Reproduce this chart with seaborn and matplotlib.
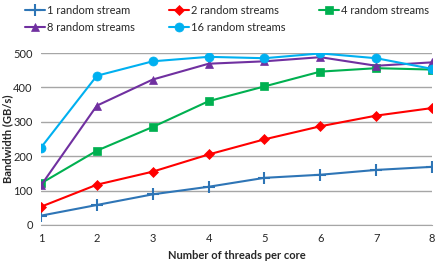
import matplotlib
matplotlib.use("Agg")
import matplotlib.pyplot as plt
import seaborn as sns
import pandas as pd

threads = [1, 2, 3, 4, 5, 6, 7, 8]
s1 = [27, 58, 89, 111, 137, 146, 160, 169]
s2 = [53, 117, 155, 205, 249, 287, 318, 340]
s4 = [121, 216, 285, 360, 403, 446, 456, 452]
s8 = [115, 347, 423, 469, 476, 488, 463, 473]
s16 = [225, 434, 476, 489, 485, 499, 485, 454]
names = ["1 random stream", "2 random streams", "4 random streams",
         "8 random streams", "16 random streams"]
colors = ["#2E75B6", "#FF0000", "#00B050", "#7030A0", "#00B0F0"]
markers = ["+", "D", "s", "^", "o"]
msizes = [9, 5, 5.5, 6, 6.5]

sns.set_style("white")
plt.rcParams['font.family'] = ['Lato', 'DejaVu Sans']

rows = []
for n, vals in zip(names, [s1, s2, s4, s8, s16]):
    for t, v in zip(threads, vals):
        rows.append({"threads": t, "bw": v, "series": n})
df = pd.DataFrame(rows)

fig = plt.figure(figsize=(4.36, 2.64), dpi=100)
ax = fig.add_axes([0.094, 0.148, 0.897, 0.651])
for n, c, m, ms in zip(names, colors, markers, msizes):
    sub = df[df.series == n]
    sns.lineplot(data=sub, x="threads", y="bw", ax=ax, color=c, marker=m,
                 markersize=ms, linewidth=1.5, label=n,
                 markeredgecolor=c, markeredgewidth=1.5 if m == "+" else 0.5)

ax.set_xlim(1, 8)
ax.set_ylim(0, 500)
ax.set_xticks(threads)
ax.set_yticks([0, 100, 200, 300, 400, 500])
ax.grid(axis="y", color="#A6A6A6", linewidth=1)
for s in ["left", "right", "top"]:
    ax.spines[s].set_visible(False)
ax.spines["bottom"].set_color("#A6A6A6")
ax.tick_params(axis="both", labelsize=8, length=0, pad=6)
ax.set_xlabel("Number of threads per core", fontsize=8, fontweight="bold", labelpad=4)
ax.set_ylabel("Bandwidth (GB/s)", fontsize=8, fontweight="bold", labelpad=1)
ax.yaxis.set_label_coords(-0.07, 0.5)
h, l = ax.get_legend_handles_labels()
ax.legend_.remove()
order = [0, 3, 1, 4, 2]
fig.legend([h[i] for i in order], [l[i] for i in order], ncol=3,
           loc="upper left", bbox_to_anchor=(0.035, 1.02),
           frameon=False, fontsize=8, handlelength=1.8, handletextpad=0.2,
           columnspacing=3.0, labelspacing=0.55)
fig.savefig("out.png", dpi=100)
